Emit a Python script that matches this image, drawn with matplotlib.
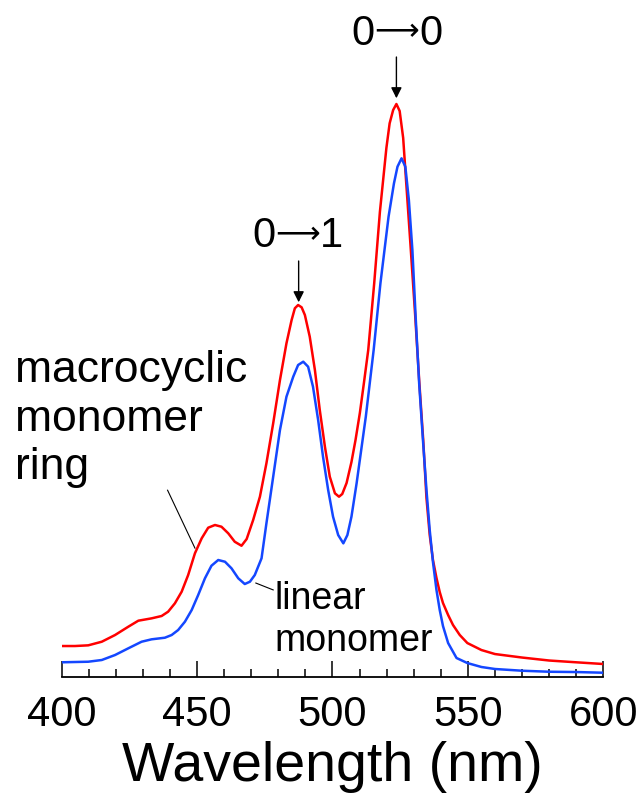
import numpy as np
from matplotlib import pyplot as plt
from matplotlib.ticker import MultipleLocator

plt.rcParams['font.family'] = ['Liberation Sans', 'DejaVu Sans']

# Emission spectra, intensity normalised to the ring 0->0 peak (=100)
ring_nm = [400.0, 404.9, 409.8, 414.8, 419.7, 424.6, 428.3, 433.2, 436.9, 439.3,
           441.8, 444.3, 446.7, 449.2, 451.7, 454.1, 456.6, 459.0, 461.5, 463.9,
           466.4, 468.3, 470.7, 473.2, 475.6, 478.1, 480.6, 483.0, 484.9, 486.1,
           487.3, 488.6, 489.8, 491.6, 493.5, 495.3, 497.2, 499.0, 500.9, 502.4,
           503.6, 505.2, 507.0, 508.5, 510.1, 511.6, 513.2, 515.4, 517.5, 519.9,
           521.1, 522.4, 523.6, 524.8, 526.1, 527.1, 528.8, 530.5, 532.0, 533.5,
           534.7, 535.9, 537.1, 538.4, 539.6, 540.8, 542.7, 544.5, 547.0, 549.8,
           555, 560, 570, 580, 590, 600]
ring_int = [5.41, 5.41, 5.53, 6.16, 7.33, 8.78, 9.83, 10.24, 10.65, 11.40,
            12.86, 14.89, 17.80, 21.59, 24.21, 26.06, 26.53, 26.23, 25.08, 23.61,
            22.91, 24.08, 27.40, 31.47, 37.30, 44.28, 51.83, 58.24, 62.30, 64.35,
            64.92, 64.52, 63.18, 59.39, 53.58, 46.60, 40.19, 34.96, 32.06, 31.47,
            31.94, 33.86, 37.52, 41.36, 46.07, 51.31, 57.07, 68.71, 81.15, 92.32,
            96.63, 98.95, 100.0, 98.78, 94.07, 87.09, 75.39, 63.35, 51.83, 41.36,
            31.24, 24.78, 20.42, 17.28, 14.83, 12.91, 10.82, 9.08, 7.33, 5.93,
            4.71, 4.01, 3.40, 2.88, 2.57, 2.27]

lin_nm = [400.0, 409.8, 414.8, 419.7, 424.6, 429.5, 433.2, 438.1, 440.6, 443.0,
          445.5, 448.0, 450.4, 452.9, 455.3, 457.8, 460.3, 462.7, 465.2, 467.6,
          469.5, 471.3, 473.8, 475.6, 478.1, 480.6, 483.0, 485.5, 487.3, 489.2,
          491.0, 492.8, 494.7, 496.5, 498.4, 500.2, 502.1, 504.0, 505.5, 507.0,
          508.9, 512.3, 515.2, 517.7, 520.7, 522.7, 524.0, 525.5, 526.9, 528.2,
          529.5, 530.7, 532.0, 533.4, 534.7, 535.9, 537.1, 538.4, 539.6, 540.8,
          542.7, 545.8, 549.8, 555, 560, 570, 580, 590, 600]
lin_int = [2.57, 2.67, 2.97, 3.84, 5.01, 6.16, 6.58, 6.86, 7.33, 8.20,
           9.65, 11.69, 14.31, 17.23, 19.42, 20.42, 20.12, 18.97, 17.23, 16.23,
           16.63, 17.80, 20.72, 26.82, 34.96, 43.11, 48.92, 52.41, 54.45, 55.03,
           54.15, 50.66, 44.85, 38.45, 32.64, 27.98, 24.78, 23.33, 24.78, 27.98,
           33.80, 45.43, 57.07, 68.71, 80.33, 86.16, 89.06, 90.52, 89.06, 83.25,
           74.52, 62.88, 51.26, 41.36, 32.64, 25.65, 20.07, 15.18, 11.69, 8.90,
           5.93, 3.32, 2.44, 1.75, 1.40, 1.10, 0.92, 0.87, 0.75]

# vibronic transitions: (from, to, label x, label baseline, arrow tip y)
transitions = [('0', '0', 523.6, 110.3, 101.0), ('0', '1', 487.0, 75.0, 65.4)]

fig = plt.figure(figsize=(6.44, 7.98), dpi=100)
ax = fig.add_axes([0.0958, 0.1516, 0.841, 0.8484])

ax.plot(ring_nm, ring_int, color='#ff0000', lw=1.8, solid_joinstyle='round')
ax.plot(lin_nm, lin_int, color='#1447ff', lw=1.8, solid_joinstyle='round')

ax.set_xlim(400, 600)
ax.set_ylim(0, 118.15)

for side in ('left', 'right', 'top'):
	ax.spines[side].set_visible(False)
ax.spines['bottom'].set_linewidth(1.3)
ax.set_yticks([])

ax.xaxis.set_major_locator(MultipleLocator(50))
ax.xaxis.set_minor_locator(MultipleLocator(10))
ax.tick_params(axis='x', which='major', direction='in', length=11.5, width=1.1, pad=13, labelsize=30)
ax.tick_params(axis='x', which='minor', direction='in', length=6, width=1.1)
ax.set_xlabel('Wavelength (nm)', fontsize=40, labelpad=4.5)

# peak labels: digits in Liberation Sans, long thin arrow between them
arrow = dict(arrowstyle='-|>', color='k', lw=1.0, mutation_scale=16, shrinkA=0, shrinkB=0)
for v0, v1, x, base, tip in transitions:
	ax.annotate(v0, xy=(x, base), xytext=(-15.5, 0), textcoords='offset points',
	            fontsize=30, ha='right', va='baseline')
	ax.annotate('⟶', xy=(x, base), xytext=(0, 3.3), textcoords='offset points',
	            fontsize=22.5, ha='center', va='baseline', family='DejaVu Sans')
	ax.annotate(v1, xy=(x, base), xytext=(16.2, 0), textcoords='offset points',
	            fontsize=30, ha='left', va='baseline')
	ax.annotate('', xy=(x + 0.5 if v1 == '1' else x, tip),
	            xytext=(x + 0.5 if v1 == '1' else x, tip + 7.2), arrowprops=arrow)

# curve labels
ax.text(382.8, 57.1, 'macrocyclic\nmonomer\nring', fontsize=32, ha='left', va='top',
        linespacing=1.24, clip_on=False)
ax.plot([439.1, 449.2], [32.6, 22.5], color='k', lw=0.8)
ax.text(478.7, 16.8, 'linear\nmonomer', fontsize=27, ha='left', va='top', linespacing=1.22)
ax.plot([471.7, 478.1], [16.4, 15.2], color='k', lw=0.8)

plt.savefig('out.png', dpi=100)
